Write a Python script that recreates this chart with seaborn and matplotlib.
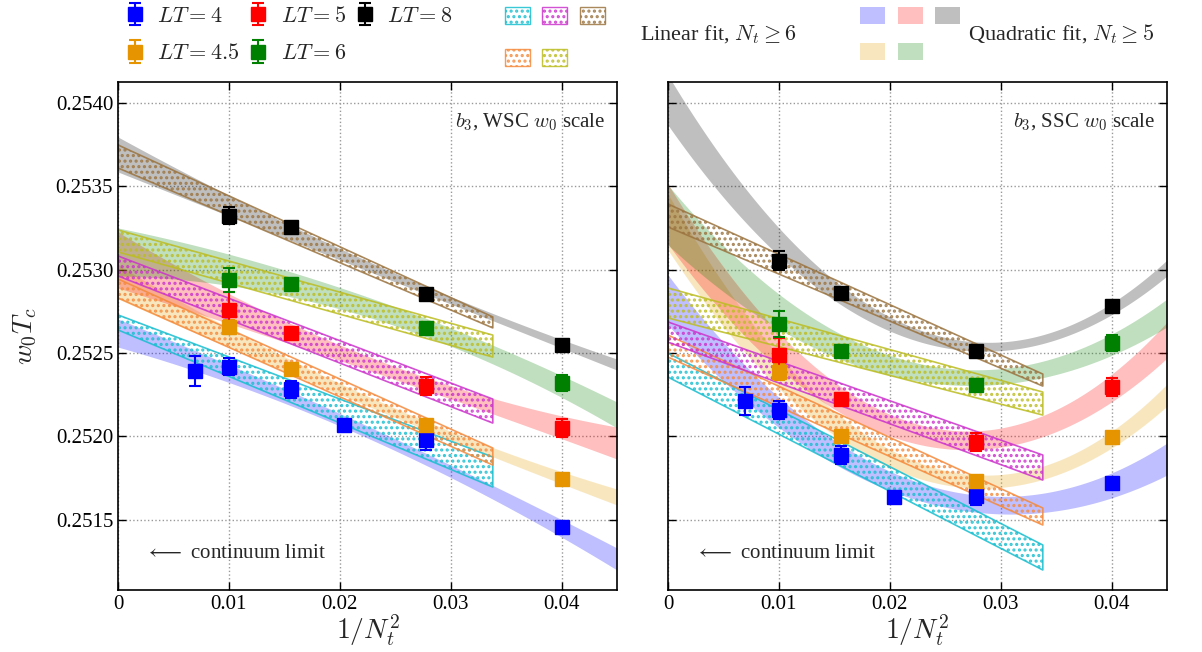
#!/usr/bin/env python3
"""
w0*Tc continuum extrapolation, WSC vs SSC w0 scale (b3 action)
"""

import numpy as np
import matplotlib
matplotlib.use("Agg")
import matplotlib.pyplot as plt
import seaborn as sns
from matplotlib.patches import Patch

sns.set_theme(style="ticks")
plt.rcParams['font.family'] = ['Liberation Serif', 'DejaVu Serif']
plt.rcParams['mathtext.fontset'] = 'cm'
plt.rcParams['hatch.linewidth'] = 1.5

# --- data ---------------------------------------------------------------
lt_labels = ['4', '4.5', '5', '6', '8']
point_colors = ['#0000ff', '#e69500', '#ff0000', '#008000', '#000000']
quad_colors = ['#0000ff', '#e69f00', '#ff0000', '#008000', '#000000']
lin_colors = ['#17becf', '#f58a3c', '#cc33cc', '#bcbd22', '#9b7440']

# temporal extents N_t for each LT (LT=4 has two extra lattices)
nt_per_lt = [[12, 10, 8, 7, 6, 5], [10, 8, 6, 5], [10, 8, 6, 5],
             [10, 8, 6, 5], [10, 8, 6, 5]]

# WSC w0 scale (left panel)
wsc_vals = [
    [0.252391, 0.252417, 0.252283, 0.252067, 0.251977, 0.251455],
    [0.252655, 0.252403, 0.252067, 0.251743],
    [0.252758, 0.252619, 0.252301, 0.252049],
    [0.252938, 0.252914, 0.252650, 0.252319],
    [0.253322, 0.253256, 0.252854, 0.252547],
]
wsc_errs = [
    [0.00009, 0.000051, 0.000051, 0.00003, 0.00006, 0.000024],
    [0.00004, 0.00003, 0.00003, 0.000024],
    [0.000108, 0.000024, 0.000054, 0.000054],
    [0.000072, 0.00003, 0.00003, 0.000048],
    [0.000051, 0.00003, 0.000024, 0.000024],
]

# SSC w0 scale (right panel)
ssc_vals = [
    [0.252211, 0.252157, 0.251887, 0.251633, 0.251641, 0.251721],
    [0.252387, 0.252003, 0.251733, 0.251993],
    [0.252487, 0.252221, 0.251967, 0.252294],
    [0.252672, 0.252511, 0.252307, 0.252558],
    [0.253052, 0.252858, 0.252513, 0.252783],
]
ssc_errs = [
    [0.000084, 0.000054, 0.000054, 0.00003, 0.000054, 0.00003],
    [0.000048, 0.00003, 0.00003, 0.000024],
    [0.000102, 0.00003, 0.000054, 0.000054],
    [0.000078, 0.000036, 0.000036, 0.000048],
    [0.000057, 0.00003, 0.000024, 0.000024],
]

# quadratic fit bands (N_t >= 5): centre and half width read at these x
quad_nodes = [0.0, 0.0225, 0.045]
wsc_quad_mid = [
    [0.252619, 0.252025, 0.251263],
    [0.252926, 0.252211, 0.251635],
    [0.253058, 0.252439, 0.251959],
    [0.253106, 0.252776, 0.252127],
    [0.253691, 0.253022, 0.252430],
]
wsc_quad_hw = [
    [0.000084, 0.000036, 0.000066],
    [0.000102, 0.000030, 0.000048],
    [0.000168, 0.000042, 0.000096],
    [0.000144, 0.000060, 0.000078],
    [0.000105, 0.000030, 0.000033],
]
ssc_quad_mid = [
    [0.252818, 0.251671, 0.251863],
    [0.253286, 0.251797, 0.252247],
    [0.253334, 0.252013, 0.252577],
    [0.253328, 0.252385, 0.252740],
    [0.254018, 0.252607, 0.253010],
]
ssc_quad_hw = [
    [0.000150, 0.000054, 0.000096],
    [0.000168, 0.000048, 0.000066],
    [0.000180, 0.000060, 0.000108],
    [0.000180, 0.000054, 0.000084],
    [0.000150, 0.000036, 0.000048],
]

# linear fit bands (N_t >= 6): lower / upper edge at x = 0 and x_end
lin_x = [0.0, 0.0338]
wsc_lin_lo = [[0.252638, 0.251695], [0.252830, 0.251827], [0.252962, 0.252079],
              [0.253106, 0.252475], [0.253610, 0.252650]]
wsc_lin_hi = [[0.252728, 0.251875], [0.252944, 0.251929], [0.253082, 0.252223],
              [0.253238, 0.252607], [0.253748, 0.252716]]
ssc_lin_lo = [[0.252355, 0.251197], [0.252475, 0.251467], [0.252565, 0.251737],
              [0.252710, 0.252127], [0.253256, 0.252301]]
ssc_lin_hi = [[0.252499, 0.251347], [0.252607, 0.251569], [0.252686, 0.251887],
              [0.252890, 0.252265], [0.253394, 0.252373]]

panel_titles = [r'$b_3$, WSC $w_0$ scale', r'$b_3$, SSC $w_0$ scale']

XLIM = (0.0, 0.045)
YLIM = (0.251077, 0.254126)


def draw_panel(ax, vals, errs, q_mid, q_hw, l_lo, l_hi, title):
    xs = np.linspace(XLIM[0], XLIM[1], 300)
    handles = []
    for i in range(len(lt_labels)):
        mid = np.polyval(np.polyfit(quad_nodes, q_mid[i], 2), xs)
        hw = np.polyval(np.polyfit(quad_nodes, q_hw[i], 2), xs)
        ax.fill_between(xs, mid - hw, mid + hw, color=quad_colors[i],
                        alpha=0.25, linewidth=0, zorder=1)
    for i in range(len(lt_labels)):
        ax.fill_between(lin_x, l_lo[i], l_hi[i], facecolor='none',
                        edgecolor=lin_colors[i], hatch='...', linewidth=1.2,
                        alpha=0.85, zorder=2)
    for i in range(len(lt_labels)):
        x = 1.0 / np.array(nt_per_lt[i], dtype=float) ** 2
        h = ax.errorbar(x, vals[i], yerr=errs[i], fmt='s', ms=9.5,
                        color=point_colors[i], ecolor=point_colors[i],
                        elinewidth=1.5, capsize=4.5, capthick=1.5, zorder=3,
                        label=rf'$LT={lt_labels[i]}$')
        handles.append(h)

    ax.set_xlim(*XLIM)
    ax.set_ylim(*YLIM)
    ax.set_xticks([0, 0.01, 0.02, 0.03, 0.04])
    ax.set_xticklabels(['0', '0.01', '0.02', '0.03', '0.04'])
    ax.set_yticks(np.arange(0.2515, 0.25405, 0.0005))
    ax.grid(True, linestyle=':', color='#999999', linewidth=1.0)
    ax.set_axisbelow(True)
    ax.tick_params(direction='in', top=True, right=True, length=6, width=1.0,
                   labelsize=15, colors='black')
    for s in ax.spines.values():
        s.set_linewidth(1.2)
        s.set_color('black')
    ax.set_xlabel(r'$1/N_t^2$', fontsize=20, labelpad=-1)
    ax.text(0.976, 0.92, title, transform=ax.transAxes, ha='right',
            va='center', fontsize=15)
    ax.text(0.054, 0.072, r'$\longleftarrow$ continuum limit',
            transform=ax.transAxes, ha='left', va='center', fontsize=15)
    return handles


fig = plt.figure(figsize=(12.02, 6.52), dpi=100)
ax1 = fig.add_axes([0.0982, 0.0951, 0.4151, 0.7791])
ax2 = fig.add_axes([0.5557, 0.0951, 0.4152, 0.7791], sharey=ax1)

handles = draw_panel(ax1, wsc_vals, wsc_errs, wsc_quad_mid, wsc_quad_hw,
                     wsc_lin_lo, wsc_lin_hi, panel_titles[0])
draw_panel(ax2, ssc_vals, ssc_errs, ssc_quad_mid, ssc_quad_hw,
           ssc_lin_lo, ssc_lin_hi, panel_titles[1])
ax1.set_yticklabels([f'{v:.4f}' for v in ax1.get_yticks()])
ax2.tick_params(labelleft=False)
ax1.set_ylabel(r'$w_0T_c$', fontsize=20, labelpad=12)

# legends
fig.legend(handles=handles, labels=[rf'$LT={l}$' for l in lt_labels],
           ncol=3, loc='upper left', bbox_to_anchor=(0.103, 0.990),
           frameon=False, fontsize=16, handlelength=1.0, handletextpad=0.5,
           columnspacing=0.35, labelspacing=0.75, borderpad=0, borderaxespad=0)

lin_handles = [Patch(facecolor='none', edgecolor=c, hatch='...', alpha=0.85)
               for c in lin_colors]
fig.legend(handles=lin_handles, labels=[''] * 5, ncol=3, loc='upper left',
           bbox_to_anchor=(0.420, 0.989), frameon=False, fontsize=15,
           handlelength=1.2, handleheight=0.9, handletextpad=0,
           columnspacing=0.6, labelspacing=1.0, borderpad=0, borderaxespad=0)
fig.text(0.5324, 0.947, r'Linear fit, $N_t \geq 6$', fontsize=16,
         ha='left', va='center')

quad_handles = [Patch(facecolor=c, alpha=0.25, linewidth=0) for c in quad_colors]
fig.legend(handles=quad_handles, labels=[''] * 5, ncol=3, loc='upper left',
           bbox_to_anchor=(0.7155, 0.990), frameon=False, fontsize=15,
           handlelength=1.2, handleheight=0.9, handletextpad=0,
           columnspacing=0.6, labelspacing=0.75, borderpad=0, borderaxespad=0)
fig.text(0.8053, 0.947, r'Quadratic fit, $N_t \geq 5$', fontsize=16,
         ha='left', va='center')

fig.savefig('out.png', dpi=100)
